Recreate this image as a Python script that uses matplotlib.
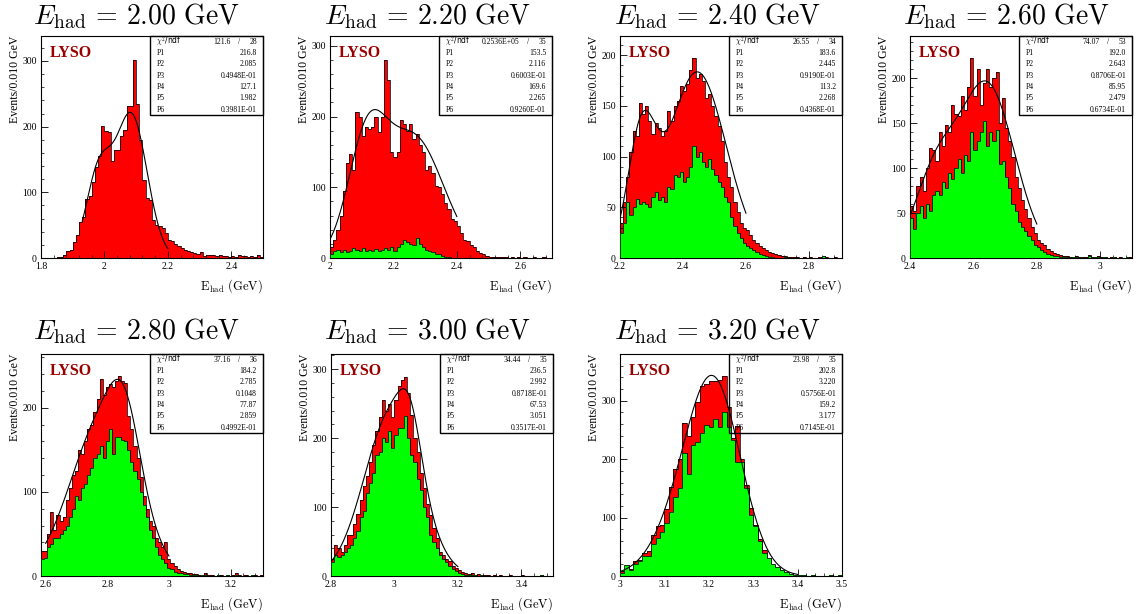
import numpy as np
import matplotlib
matplotlib.use("Agg")
import matplotlib.pyplot as plt
from matplotlib.ticker import MultipleLocator, AutoMinorLocator, FuncFormatter
from matplotlib.patches import Rectangle

plt.rcParams['mathtext.fontset'] = 'cm'
plt.rcParams['font.family'] = ['Liberation Serif', 'DejaVu Serif']

# beam energies (titles)
e_had = ["2.00", "2.20", "2.40", "2.60", "2.80", "3.00", "3.20"]

# histogram binning: first bin edge, 0.010 GeV bins
bin_lo = [1.80, 2.00, 2.20, 2.40, 2.585, 2.80, 3.00]
x_hi = [2.50, 2.70, 2.905, 3.10, 3.305, 3.50, 3.50]
y_hi = [338, 314, 219, 247, 264, 322, 380]
x_step = [0.2, 0.2, 0.2, 0.2, 0.2, 0.2, 0.1]
y_step = [100, 100, 50, 50, 100, 100, 100]

# all events (red)
red_200 = [0, 0, 0, 0, 0, 1, 2, 5, 10, 12,
           25, 35, 55, 62, 90, 95, 115, 138, 155, 201,
           193, 192, 148, 165, 165, 185, 195, 232, 232, 302,
           235, 180, 118, 92, 88, 58, 50, 48, 45, 38,
           28, 26, 22, 18, 15, 12, 10, 9, 8, 6,
           9, 3, 5, 4, 4, 3, 4, 3, 3, 2,
           3, 2, 4, 3, 3, 2, 3, 2, 4, 2]
red_220 = [15, 25, 40, 60, 95, 135, 147, 125, 207, 200,
           172, 185, 183, 185, 200, 178, 200, 280, 252, 150,
           143, 150, 195, 190, 180, 190, 168, 175, 160, 150,
           125, 130, 120, 102, 100, 90, 78, 70, 55, 52,
           45, 35, 25, 24, 18, 15, 10, 7, 5, 3,
           2, 2, 1, 1, 1, 1, 0, 1, 0, 1,
           0, 1, 0, 0, 1, 0, 0, 1, 0, 0]
red_240 = [35, 55, 80, 105, 125, 120, 153, 142, 150, 135,
           122, 133, 128, 120, 125, 145, 135, 150, 155, 170,
           165, 172, 185, 197, 178, 182, 175, 158, 162, 150,
           140, 130, 115, 95, 80, 70, 55, 45, 35, 30,
           28, 23, 18, 15, 12, 10, 8, 6, 5, 4,
           3, 2, 2, 1, 1, 1, 1, 0, 1, 0,
           1, 0, 0, 1, 2, 1, 0, 0, 1, 0]
red_260 = [58, 52, 80, 90, 75, 100, 122, 120, 108, 140,
           125, 148, 140, 170, 160, 158, 180, 165, 190, 222,
           180, 210, 170, 195, 210, 190, 200, 207, 150, 178,
           145, 130, 112, 90, 78, 65, 55, 45, 35, 28,
           20, 17, 14, 10, 8, 6, 4, 3, 2, 2,
           1, 1, 2, 1, 1, 1, 3, 1, 1, 2,
           1, 1, 0, 1, 1, 0, 1, 0, 1, 1]
red_280 = [30, 30, 50, 76, 55, 72, 65, 70, 90, 105,
           120, 125, 150, 145, 160, 175, 180, 195, 210, 234,
           215, 225, 228, 225, 232, 238, 232, 230, 190, 175,
           155, 140, 118, 95, 80, 65, 60, 45, 40, 35,
           40, 20, 15, 12, 8, 6, 5, 3, 3, 2,
           2, 1, 1, 3, 1, 1, 0, 1, 1, 0,
           1, 0, 1, 3, 1, 0, 1, 0, 1, 1, 0, 1]
red_300 = [25, 45, 40, 35, 45, 60, 60, 75, 90, 110,
           130, 145, 165, 190, 210, 230, 255, 240, 250, 230,
           255, 275, 285, 289, 265, 233, 200, 180, 150, 128,
           105, 88, 70, 55, 35, 30, 25, 22, 15, 12,
           8, 6, 5, 3, 4, 2, 3, 1, 1, 1,
           0, 1, 0, 1, 0, 0, 1, 0, 0, 0,
           1, 0, 0, 0, 0, 0, 1, 0, 0, 0]
red_320 = [8, 18, 12, 25, 28, 40, 42, 70, 85, 87,
           115, 153, 184, 200, 262, 240, 272, 298, 325, 328,
           334, 333, 336, 342, 290, 236, 256, 201, 156, 116,
           87, 64, 44, 30, 18, 13, 8, 5, 3, 2,
           1, 1, 0, 1, 0, 0, 0, 1, 0, 1]

# selected events (green); none shown at 2.00 GeV
green_220 = [5, 10, 12, 8, 12, 8, 10, 14, 12, 10,
             14, 10, 12, 10, 13, 10, 12, 14, 11, 15,
             10, 15, 20, 25, 22, 20, 18, 28, 20, 15,
             12, 10, 8, 6, 5, 3, 2, 1, 0, 0] + [0] * 30
green_240 = [25, 35, 55, 42, 50, 58, 53, 55, 53, 50,
             60, 65, 57, 60, 55, 70, 68, 82, 80, 85,
             75, 80, 90, 110, 100, 105, 95, 90, 98, 88,
             82, 75, 70, 60, 55, 40, 32, 25, 20, 15,
             12, 10, 8, 6, 4, 3, 2, 1, 1, 0,
             0, 0, 1, 0, 0, 0, 0, 0, 0, 0,
             0, 0, 0, 0, 2, 0, 0, 0, 0, 0]
green_260 = [45, 32, 50, 58, 45, 60, 52, 70, 75, 70,
             85, 78, 95, 88, 100, 110, 95, 115, 108, 140,
             120, 130, 140, 152, 125, 140, 130, 142, 105, 108,
             90, 78, 60, 52, 40, 35, 30, 25, 20, 15,
             12, 9, 7, 5, 3, 2, 2, 1, 1, 1,
             0, 1, 1, 0, 1, 0, 2, 0, 1, 1,
             0, 1, 0, 0, 1, 0, 0, 0, 1, 0]
green_280 = [20, 22, 35, 38, 45, 45, 50, 55, 60, 70,
             80, 95, 90, 105, 110, 120, 128, 140, 145, 155,
             140, 160, 175, 145, 165, 165, 162, 160, 150, 135,
             125, 115, 100, 85, 70, 55, 45, 35, 25, 20,
             15, 10, 8, 5, 4, 3, 2, 2, 1, 1,
             1, 0, 1, 1, 0, 0, 0, 1, 0, 0,
             1, 0, 0, 1, 0, 0, 0, 0, 1, 0, 0, 0]
green_300 = [20, 30, 28, 30, 35, 40, 45, 55, 65, 85,
             95, 120, 135, 150, 175, 180, 200, 195, 210, 185,
             205, 215, 215, 232, 200, 175, 165, 140, 125, 100,
             85, 60, 50, 40, 30, 25, 20, 15, 10, 7,
             5, 3, 2, 1, 1, 1, 0, 1, 0, 0,
             0, 0, 0, 0, 0, 0, 0, 0, 0, 0,
             0, 0, 0, 0, 0, 0, 1, 0, 0, 0]
green_320 = [5, 18, 10, 20, 25, 35, 35, 55, 65, 75,
             90, 110, 135, 150, 210, 175, 225, 230, 245, 258,
             255, 268, 255, 280, 255, 232, 195, 195, 150, 105,
             85, 60, 40, 30, 20, 15, 10, 6, 3, 2,
             1, 1, 0, 1, 0, 0, 0, 1, 0, 1]

red_all = [red_200, red_220, red_240, red_260, red_280, red_300, red_320]
green_all = [None, green_220, green_240, green_260, green_280, green_300, green_320]

# fit results (stat boxes)
chi2 = ["121.6", "0.2536E+05", "26.55", "74.07", "37.16", "34.44", "23.98"]
ndf = ["28", "35", "34", "53", "36", "35", "35"]
pars = [["216.8", "2.085", "0.4948E-01", "127.1", "1.982", "0.3981E-01"],
        ["153.5", "2.116", "0.6003E-01", "169.6", "2.265", "0.9260E-01"],
        ["183.6", "2.445", "0.9190E-01", "113.2", "2.268", "0.4368E-01"],
        ["192.0", "2.643", "0.8706E-01", "85.95", "2.479", "0.6734E-01"],
        ["184.2", "2.785", "0.1048", "77.87", "2.859", "0.4992E-01"],
        ["236.5", "2.992", "0.8718E-01", "67.53", "3.051", "0.3517E-01"],
        ["202.8", "3.220", "0.5756E-01", "159.2", "3.177", "0.7145E-01"]]
fit_lo = [1.93, 2.00, 2.20, 2.40, 2.60, 2.80, 3.00]
fit_hi = [2.20, 2.40, 2.60, 2.80, 3.00, 3.20, 3.40]


def double_gaus(x, p):
    return (p[0] * np.exp(-0.5 * ((x - p[1]) / p[2]) ** 2)
            + p[3] * np.exp(-0.5 * ((x - p[4]) / p[5]) ** 2))


W, H = 1138, 614
fig = plt.figure(figsize=(W / 100, H / 100), dpi=100)

lefts = [41, 330, 620, 910, 41, 331, 620]
tops = [36, 36, 36, 36, 354, 354, 354]
title_x = [136, 427, 717, 1006, 136, 427, 717]
title_y = [16, 16, 16, 16, 331, 331, 331]
aw, ah = 222, 222

fmt = FuncFormatter(lambda v, pos: f"{v:g}")

for i in range(7):
    ax = fig.add_axes([lefts[i] / W, 1 - (tops[i] + ah) / H, aw / W, ah / H])
    n = len(red_all[i])
    edges = bin_lo[i] + 0.01 * np.arange(n + 1)
    ax.stairs(red_all[i], edges, fill=True, color='#ff0000', zorder=1)
    ax.stairs(red_all[i], edges, color='black', lw=0.55, zorder=2)
    if green_all[i] is not None:
        ax.stairs(green_all[i], edges, fill=True, color='#00ff00', zorder=3)
        ax.stairs(green_all[i], edges, color='black', lw=0.55, zorder=4)

    p = [float(s) for s in pars[i]]
    xf = np.linspace(fit_lo[i], fit_hi[i], 300)
    ax.plot(xf, double_gaus(xf, p), color='black', lw=0.8, zorder=5)

    ax.set_xlim(bin_lo[i], x_hi[i])
    ax.set_ylim(0, y_hi[i])
    ax.xaxis.set_major_locator(MultipleLocator(x_step[i]))
    ax.yaxis.set_major_locator(MultipleLocator(y_step[i]))
    ax.xaxis.set_minor_locator(AutoMinorLocator(5))
    ax.yaxis.set_minor_locator(AutoMinorLocator(5))
    ax.xaxis.set_major_formatter(fmt)
    ax.tick_params(which='both', direction='in', top=False, right=False,
                   labelsize=7, pad=3)
    ax.tick_params(which='major', length=5, width=0.6)
    ax.tick_params(which='minor', length=2.5, width=0.5)
    for s in ax.spines.values():
        s.set_linewidth(0.8)

    ax.text(-0.115, 1.0, 'Events/0.010 GeV', rotation=90, ha='center',
            va='top', fontsize=8.5, transform=ax.transAxes)
    ax.text(1.0, -0.125, r'$\mathrm{E_{had}\ (GeV)}$', ha='right',
            va='center', fontsize=9, transform=ax.transAxes)
    ax.text(0.04, 0.96, 'LYSO', color='#990000', fontsize=11.5,
            fontweight='bold', ha='left', va='top', transform=ax.transAxes,
            zorder=6)

    # stat box
    bx, by, bw, bh = 0.49, 0.645, 0.51, 0.355
    ax.add_patch(Rectangle((bx, by), bw, bh, transform=ax.transAxes,
                           fill=False, ec='black', lw=1.0, zorder=7,
                           clip_on=False))
    rows = [r'$\chi^2$/ndf'] + [f'P{k + 1}' for k in range(6)]
    fs = 5.5
    for k in range(7):
        yy = 1.0 - bh * (0.072 + 0.1435 * k)
        if k == 0:
            ax.text(0.52, yy, rows[k], fontsize=fs, ha='left', va='center',
                    family='DejaVu Sans', transform=ax.transAxes, zorder=8)
            ax.text(0.855, yy, chi2[i], fontsize=fs, ha='right', va='center',
                    transform=ax.transAxes, zorder=8)
            ax.text(0.892, yy, '/', fontsize=fs, ha='center', va='center',
                    transform=ax.transAxes, zorder=8)
            ax.text(0.973, yy, ndf[i], fontsize=fs, ha='right', va='center',
                    transform=ax.transAxes, zorder=8)
        else:
            ax.text(0.52, yy, rows[k], fontsize=fs, ha='left', va='center',
                    transform=ax.transAxes, zorder=8)
            ax.text(0.973, yy, pars[i][k - 1], fontsize=fs, ha='right',
                    va='center', transform=ax.transAxes, zorder=8)

    fig.text(title_x[i] / W, 1 - title_y[i] / H,
             r'$E_{\mathrm{had}}\, =\, %s\ \mathrm{GeV}$' % e_had[i],
             fontsize=20, ha='center', va='center')

fig.savefig('out.png', dpi=100)
